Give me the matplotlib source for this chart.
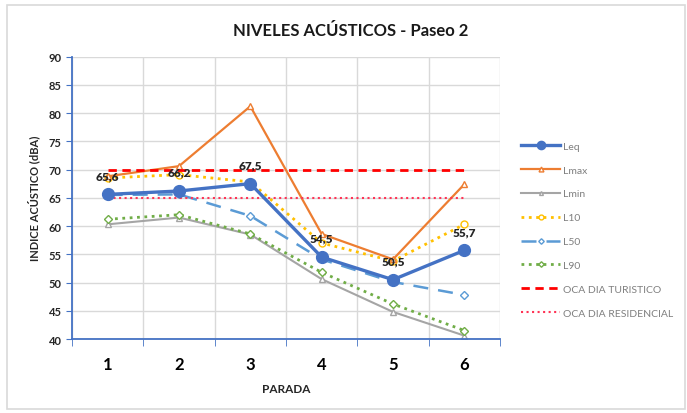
import matplotlib
matplotlib.use("Agg")
import matplotlib.pyplot as plt
from matplotlib.patches import Rectangle
import numpy as np

plt.rcParams['font.family'] = ['Lato', 'DejaVu Sans']

paradas = [1, 2, 3, 4, 5, 6]
leq = [65.6, 66.2, 67.5, 54.5, 50.5, 55.7]
lmax = [68.8, 70.6, 81.2, 58.6, 54.1, 67.4]
lmin = [60.3, 61.5, 58.5, 50.6, 44.8, 40.6]
l10 = [68.5, 69.1, 67.8, 57.0, 53.8, 60.3]
l50 = [65.5, 65.6, 61.8, 54.1, 50.1, 47.8]
l90 = [61.2, 62.0, 58.6, 51.8, 46.2, 41.5]
oca_turistico = [70, 70, 70, 70, 70, 70]
oca_residencial = [65, 65, 65, 65, 65, 65]
leq_labels = ['65,6', '66,2', '67,5', '54,5', '50,5', '55,7']

fig = plt.figure(figsize=(6.87, 4.14), dpi=100)
ax = fig.add_axes([0.1048, 0.1787, 0.6230, 0.6823])

# chart frame
fig.patches.append(Rectangle((7 / 687, 4 / 414), 678 / 687, 404 / 414, transform=fig.transFigure,
                             fill=False, edgecolor='#d9d9d9', linewidth=1.2))

ax.plot(paradas, lmin, color='#a5a5a5', lw=1.5, marker='^', ms=4, mfc='white', mec='#a5a5a5', label='Lmin')
ax.plot(paradas, l90, color='#70ad47', lw=2, ls=':', marker='D', ms=4, mfc='white', mec='#70ad47', label='L90')
ax.plot(paradas, l50, color='#5b9bd5', lw=1.8, ls=(0, (6, 4)), marker='D', ms=4, mfc='white', mec='#5b9bd5', label='L50')
ax.plot(paradas, l10, color='#ffc000', lw=2, ls=':', marker='o', ms=5, mfc='white', mec='#ffc000', label='L10')
ax.plot(paradas, lmax, color='#ed7d31', lw=1.6, marker='^', ms=5, mfc='white', mec='#ed7d31', label='Lmax')
ax.plot(paradas, oca_turistico, color='#ff0000', lw=2, ls=(0, (3, 2)), label='OCA DIA TURISTICO')
ax.plot(paradas, oca_residencial, color='#ff3355', lw=1.5, ls=':', label='OCA DIA RESIDENCIAL')
ax.plot(paradas, leq, color='#4472c4', lw=2.4, marker='o', ms=8.5, label='Leq')

for x, y, t in zip(paradas, leq, leq_labels):
    ax.annotate(t, (x, y), xytext=(0, 13.5), textcoords='offset points', ha='center', va='center',
                fontsize=8.5, fontweight='heavy', color='#262626')

ax.set_xlim(0.5, 6.5)
ax.set_ylim(40, 90)
ax.set_yticks(np.arange(40, 91, 5))
ax.set_xticks(paradas)
ax.set_xticks(np.arange(0.5, 6.6, 1), minor=True)
ax.tick_params(axis='x', which='major', length=0, labelsize=12, pad=12)
ax.tick_params(axis='x', which='minor', length=5, color='#4472c4', direction='out')
ax.tick_params(axis='y', length=4, color='#4472c4', labelsize=8, labelcolor='#262626')
for lab in ax.get_xticklabels() + ax.get_yticklabels():
    lab.set_fontweight('bold')
ax.grid(True, axis='y', color='#d9d9d9', lw=1)
ax.grid(True, axis='x', which='minor', color='#d9d9d9', lw=1)
ax.set_axisbelow(True)
for s in ['top', 'right']:
    ax.spines[s].set_visible(False)
for s in ['left', 'bottom']:
    ax.spines[s].set_color('#4472c4')
    ax.spines[s].set_linewidth(1.3)

ax.set_xlabel('PARADA', fontsize=8.5, fontweight='bold', color='#262626', labelpad=8)
ax.set_ylabel('INDICE ACÚSTICO (dBA)', fontsize=8, fontweight='bold', color='#262626', labelpad=6)
fig.text(0.51, 0.925, 'NIVELES ACÚSTICOS - Paseo 2', ha='center', va='center',
         fontsize=12, fontweight='bold', color='#1a1a1a')

handles, labels = ax.get_legend_handles_labels()
order = ['Leq', 'Lmax', 'Lmin', 'L10', 'L50', 'L90', 'OCA DIA TURISTICO', 'OCA DIA RESIDENCIAL']
hmap = dict(zip(labels, handles))
leg = fig.legend([hmap[k] for k in order], order, loc='upper left', bbox_to_anchor=(512 / 687, 1 - 133 / 414),
                 frameon=False, fontsize=7.5, labelspacing=1.4, handlelength=3.7, handletextpad=0.3,
                 markerscale=0.7)
for t in leg.get_texts():
    t.set_color('#7f7f7f')

fig.savefig('out.png', dpi=100)
